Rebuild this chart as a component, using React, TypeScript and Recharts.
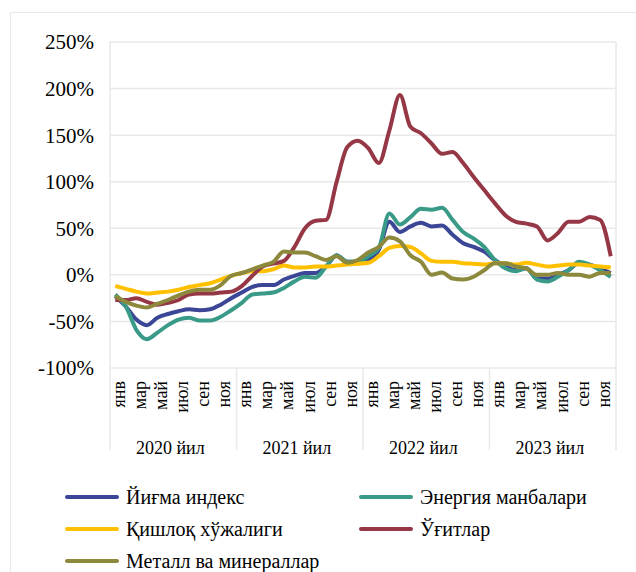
import React from "react";
import { LineChart, Line, XAxis, YAxis, CartesianGrid } from "recharts";

const MONTHS = ["янв", "фев", "мар", "апр", "май", "июн", "июл", "авг", "сен", "окт", "ноя", "дек"];
const YEARS = ["2020 йил", "2021 йил", "2022 йил", "2023 йил"];
const Y_TICKS = [-100, -50, 0, 50, 100, 150, 200, 250];

// monthly values, Jan 2020 .. Dec 2023 (%)
const INDEX = [
  -23, -34, -48, -54, -46, -42, -39, -37, -38, -37, -32, -25,
  -19, -13, -11, -11, -5, -1, 2, 2, 9, 21, 14, 14,
  16, 27, 57, 46, 52, 56, 52, 53, 43, 34, 30, 25,
  16, 9, 5, 7, -4, -4, 0, 5, 13, 11, 7, 2,
];
const ENERGY = [
  -21, -34, -59, -69, -62, -54, -48, -46, -49, -49, -45, -38,
  -30, -21, -20, -19, -14, -7, -2, -3, 9, 21, 14, 14,
  20, 29, 66, 54, 62, 71, 70, 72, 59, 46, 39, 30,
  16, 7, 4, 7, -5, -7, -2, 5, 14, 11, 5, -2,
];
const AGRO = [
  -12, -15, -18, -20, -19, -18, -16, -13, -11, -9, -5, -1,
  2, 4, 4, 6, 10, 8, 8, 9, 9, 10, 11, 12,
  13, 20, 29, 31, 30, 23, 15, 14, 14, 12.5, 12, 11,
  12.5, 12.5, 11, 13, 11, 9, 10, 11, 11, 10, 9, 8,
];
const FERT = [
  -27, -27, -25, -29, -32, -30, -27, -21, -20, -20, -19, -18,
  -12, -1, 9, 12, 15, 30, 50, 58, 59, 100, 137, 144,
  136, 120, 155, 193, 159, 152, 141, 130, 132, 120, 105, 91,
  77, 64, 57, 55, 52, 37, 45, 57, 57, 62, 59, 20,
];
const METALS = [
  -23, -29, -33, -35, -31, -27, -22, -18, -16, -16, -11, -1,
  2, 6, 10, 14, 25, 24, 24, 20, 16, 20, 13, 16,
  24, 30, 40, 36, 21, 14, 0, 2.5, -4, -5, -2, 5,
  12.5, 12.5, 9, 7, 0, 0, 2, 0, 0, -2, 2, 2,
];

const SERIES = [
  { key: "index", name: "Йиғма индекс", color: "#3b4696", values: INDEX },
  { key: "energy", name: "Энергия манбалари", color: "#3a9a88", values: ENERGY },
  { key: "agro", name: "Қишлоқ хўжалиги", color: "#ffc000", values: AGRO },
  { key: "fert", name: "Ўғитлар", color: "#963746", values: FERT },
  { key: "metals", name: "Металл ва минераллар", color: "#8c883c", values: METALS },
];

const data = INDEX.map((_, i) => {
  const row: Record<string, any> = { period: `${MONTHS[i % 12]} ${YEARS[Math.floor(i / 12)]}` };
  SERIES.forEach((s) => (row[s.key] = s.values[i]));
  return row;
});

const W = 636;
const H = 572;
const TOP = 42;
const PLOT_LEFT = 110;
const PLOT_RIGHT = 616;
const PLOT_BOTTOM = 368;
const STEP = (PLOT_RIGHT - PLOT_LEFT) / data.length;
const GRID = "#e9e9e9";
const FONT = "Liberation Serif, Tinos, Times New Roman, DejaVu Serif, serif";

function PeriodTick(props: any) {
  const { x, payload } = props;
  const i = payload.index ?? props.index;
  const half = STEP / 2;
  return (
    <g>
      {i % 2 === 0 && (
        <text
          transform={`translate(${x + 9.5},${PLOT_BOTTOM + 13}) rotate(-90)`}
          textAnchor="end"
          fontSize={18}
          style={{ fontFamily: FONT }}
          fill="#000"
        >
          {MONTHS[i % 12]}
        </text>
      )}
      {i % 12 === 0 && (
        <line x1={x - half} x2={x - half} y1={PLOT_BOTTOM} y2={PLOT_BOTTOM + 82} stroke={GRID} strokeWidth={1.5} />
      )}
      {i === data.length - 1 && (
        <line x1={x + half} x2={x + half} y1={PLOT_BOTTOM} y2={PLOT_BOTTOM + 82} stroke={GRID} strokeWidth={1.5} />
      )}
      {i % 12 === 6 && (
        <text x={x - half - 3} y={PLOT_BOTTOM + 86} textAnchor="middle" fontSize={18} style={{ fontFamily: FONT }} fill="#000">
          {YEARS[Math.floor(i / 12)]}
        </text>
      )}
    </g>
  );
}

export default function App() {
  return (
    <div style={{ position: "absolute", left: 0, top: 0, width: W, height: H, background: "#fff", overflow: "hidden", fontFamily: FONT }}>
      <div
        style={{
          position: "absolute",
          left: 10,
          top: 12,
          width: W,
          height: H,
          border: `1px solid ${GRID}`,
        }}
      />
      <div style={{ position: "absolute", left: 0, top: 0 }}>
        <LineChart
          width={W}
          height={H}
          data={data}
          style={{ fontFamily: FONT }}
          margin={{ top: TOP, right: W - PLOT_RIGHT - 20, left: PLOT_LEFT - 100, bottom: H - PLOT_BOTTOM - 90 }}
        >
          <CartesianGrid vertical={false} stroke={GRID} strokeWidth={1.5} />
          <XAxis
            dataKey="period"
            interval={0}
            height={90}
            axisLine={false}
            tickLine={false}
            padding={{ left: STEP / 2, right: STEP / 2 }}
            tick={(p: any) => <PeriodTick {...p} />}
          />
          <YAxis
            width={100}
            domain={[-100, 250]}
            ticks={Y_TICKS}
            interval={0}
            tickFormatter={(v: number) => `${v}%`}
            axisLine={{ stroke: GRID, strokeWidth: 1.5 }}
            tickLine={false}
            tickSize={0}
            tickMargin={16}
            tick={{ fontSize: 21, fill: "#000", style: { fontFamily: FONT } }}
          />
          <YAxis
            yAxisId="right"
            orientation="right"
            width={20}
            tick={false}
            tickLine={false}
            axisLine={{ stroke: GRID, strokeWidth: 1.5 }}
          />
          {SERIES.map((s) => (
            <Line
              key={s.key}
              dataKey={s.key}
              name={s.name}
              type="monotone"
              stroke={s.color}
              strokeWidth={4}
              dot={false}
              activeDot={false}
              isAnimationActive={false}
            />
          ))}
        </LineChart>
      </div>
      {SERIES.map((s, i) => {
        const col = i % 2;
        const row = Math.floor(i / 2);
        const left = col === 0 ? 65 : 359;
        const top = 497 + row * 32;
        return (
          <div
            key={s.key}
            style={{
              position: "absolute",
              left,
              top: top - 12,
              height: 24,
              display: "flex",
              alignItems: "center",
              fontSize: 20,
              color: "#000",
              whiteSpace: "nowrap",
            }}
          >
            <span style={{ display: "inline-block", width: 54, height: 4, borderRadius: 2, background: s.color, marginRight: 7 }} />
            {s.name}
          </div>
        );
      })}
    </div>
  );
}
